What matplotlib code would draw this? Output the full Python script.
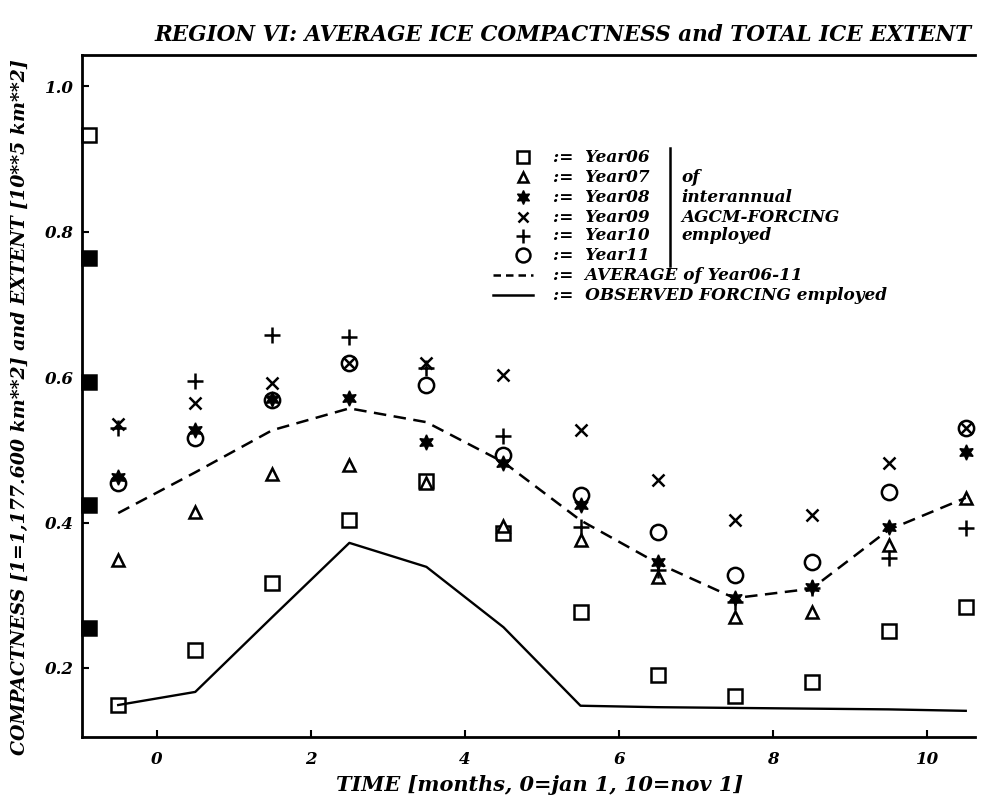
import numpy as np
import matplotlib
matplotlib.use('Agg')
import matplotlib.pyplot as plt
from matplotlib.lines import Line2D

# monthly mid-points, 0 = jan 1
months = [-0.5, 0.5, 1.5, 2.5, 3.5, 4.5, 5.5, 6.5, 7.5, 8.5, 9.5, 10.5]

year06 = [0.149, 0.225, 0.317, 0.403, 0.457, 0.386, 0.277, 0.190, 0.162, 0.180, 0.251, 0.284]
year07 = [0.348, 0.414, 0.467, 0.479, 0.455, 0.395, 0.376, 0.325, 0.270, 0.277, 0.369, 0.434]
year08 = [0.463, 0.527, 0.570, 0.571, 0.511, 0.482, 0.424, 0.346, 0.296, 0.311, 0.394, 0.497]
year09 = [0.535, 0.564, 0.592, 0.620, 0.619, 0.603, 0.527, 0.458, 0.403, 0.410, 0.482, 0.530]
year10 = [0.530, 0.594, 0.658, 0.655, 0.612, 0.519, 0.394, 0.335, 0.290, 0.310, 0.351, 0.392]
year11 = [0.455, 0.516, 0.568, 0.620, 0.589, 0.493, 0.438, 0.387, 0.328, 0.346, 0.442, 0.530]

average = [0.413, 0.469, 0.527, 0.557, 0.538, 0.483, 0.403, 0.344, 0.296, 0.309, 0.390, 0.434]
observed = [0.149, 0.167, 0.270, 0.372, 0.339, 0.256, 0.148, 0.146, 0.145, 0.144, 0.143, 0.141]

# extent markers sitting on the y axis
extent_t = -0.88
extent_vals = [0.933, 0.764, 0.593, 0.424, 0.255]
extent_filled = [False, True, True, True, True]

xticks = [0, 2, 4, 6, 8, 10]
yticks = [0.2, 0.4, 0.6, 0.8, 1.0]

W, H = 983, 806
fig = plt.figure(figsize=(W / 100, H / 100), dpi=100)
ax = fig.add_axes([82 / W, 1 - 737 / H, (975 - 82) / W, (737 - 55) / H])

font = dict(family='DejaVu Serif', weight='bold', style='italic')

ax.set_xlim(-0.97, 10.62)
ax.set_ylim(0.105, 1.043)

lw = 1.8
ax.plot(months, year06, ls='none', marker='s', ms=10, mfc='white', mec='black', mew=lw)
ax.plot(months, year07, ls='none', marker='^', ms=8, mfc='white', mec='black', mew=lw)
ax.plot(months, year08, ls='none', marker=(6, 1, 0), ms=11, mfc='black', mec='black', mew=1)
ax.plot(months, year09, ls='none', marker='x', ms=8, mec='black', mew=lw)
ax.plot(months, year10, ls='none', marker='+', ms=11, mec='black', mew=lw)
ax.plot(months, year11, ls='none', marker='o', ms=11, mfc='none', mec='black', mew=lw)

ax.plot(months, average, color='black', lw=1.8, ls=(0, (5, 3)))
ax.plot(months, observed, color='black', lw=1.7)

for v, filled in zip(extent_vals, extent_filled):
    ax.plot([extent_t], [v], ls='none', marker='s', ms=10,
            mfc='black' if filled else 'white', mec='black', mew=lw, clip_on=False)

for side in ['left', 'bottom', 'top']:
    ax.spines[side].set_linewidth(2)
ax.spines['right'].set_visible(False)

ax.set_xticks(xticks)
ax.set_yticks(yticks)
ax.set_xticklabels([str(t) for t in xticks], **font, fontsize=12)
ax.set_yticklabels(['%.1f' % t for t in yticks], **font, fontsize=12)
ax.tick_params(direction='in', length=5, width=1.5)
ax.tick_params(axis='x', pad=10)
ax.tick_params(axis='y', pad=6)

fig.text(563 / W, 1 - 35 / H, 'REGION VI: AVERAGE ICE COMPACTNESS and TOTAL ICE EXTENT',
         ha='center', va='center', fontsize=15.5, **font)
fig.text(540 / W, 1 - 785 / H, 'TIME [months, 0=jan 1, 10=nov 1]',
         ha='center', va='center', fontsize=15, **font)
fig.text(20 / W, 1 - 407 / H, 'COMPACTNESS [1=1,177.600 km**2] and EXTENT [10**5 km**2]',
         ha='center', va='center', rotation=90, fontsize=13.6, **font)

# key block drawn by hand
rows_y = [157, 177, 197, 217, 236, 255, 275, 295]
key_markers = [
    dict(marker='s', ms=9, mfc='white', mec='black', mew=lw),
    dict(marker='^', ms=7, mfc='white', mec='black', mew=lw),
    dict(marker=(6, 1, 0), ms=10, mfc='black', mec='black', mew=1),
    dict(marker='x', ms=7, mec='black', mew=lw),
    dict(marker='+', ms=10, mec='black', mew=lw),
    dict(marker='o', ms=10, mfc='white', mec='black', mew=lw),
]
names = ['Year06', 'Year07', 'Year08', 'Year09', 'Year10', 'Year11']
kfs = 12.2
for y, mk, name in zip(rows_y, key_markers, names):
    fig.add_artist(Line2D([523 / W], [1 - y / H], ls='none', **mk))
    fig.text(553 / W, 1 - y / H, ':=  ' + name, va='center', fontsize=kfs, **font)

fig.add_artist(Line2D([493 / W, 533 / W], [1 - rows_y[6] / H] * 2, color='black', lw=1.8, ls=(0, (3, 2))))
fig.text(553 / W, 1 - rows_y[6] / H, ':=  AVERAGE of Year06-11', va='center', fontsize=kfs, **font)
fig.add_artist(Line2D([493 / W, 533 / W], [1 - rows_y[7] / H] * 2, color='black', lw=1.8))
fig.text(553 / W, 1 - rows_y[7] / H, ':=  OBSERVED FORCING employed', va='center', fontsize=kfs, **font)

fig.add_artist(Line2D([670 / W, 670 / W], [1 - 148 / H, 1 - 266 / H], color='black', lw=1.8))
for y, s in zip(rows_y[1:5], ['of', 'interannual', 'AGCM-FORCING', 'employed']):
    fig.text(681 / W, 1 - y / H, s, va='center', fontsize=kfs, **font)

fig.savefig('out.png', dpi=100)
